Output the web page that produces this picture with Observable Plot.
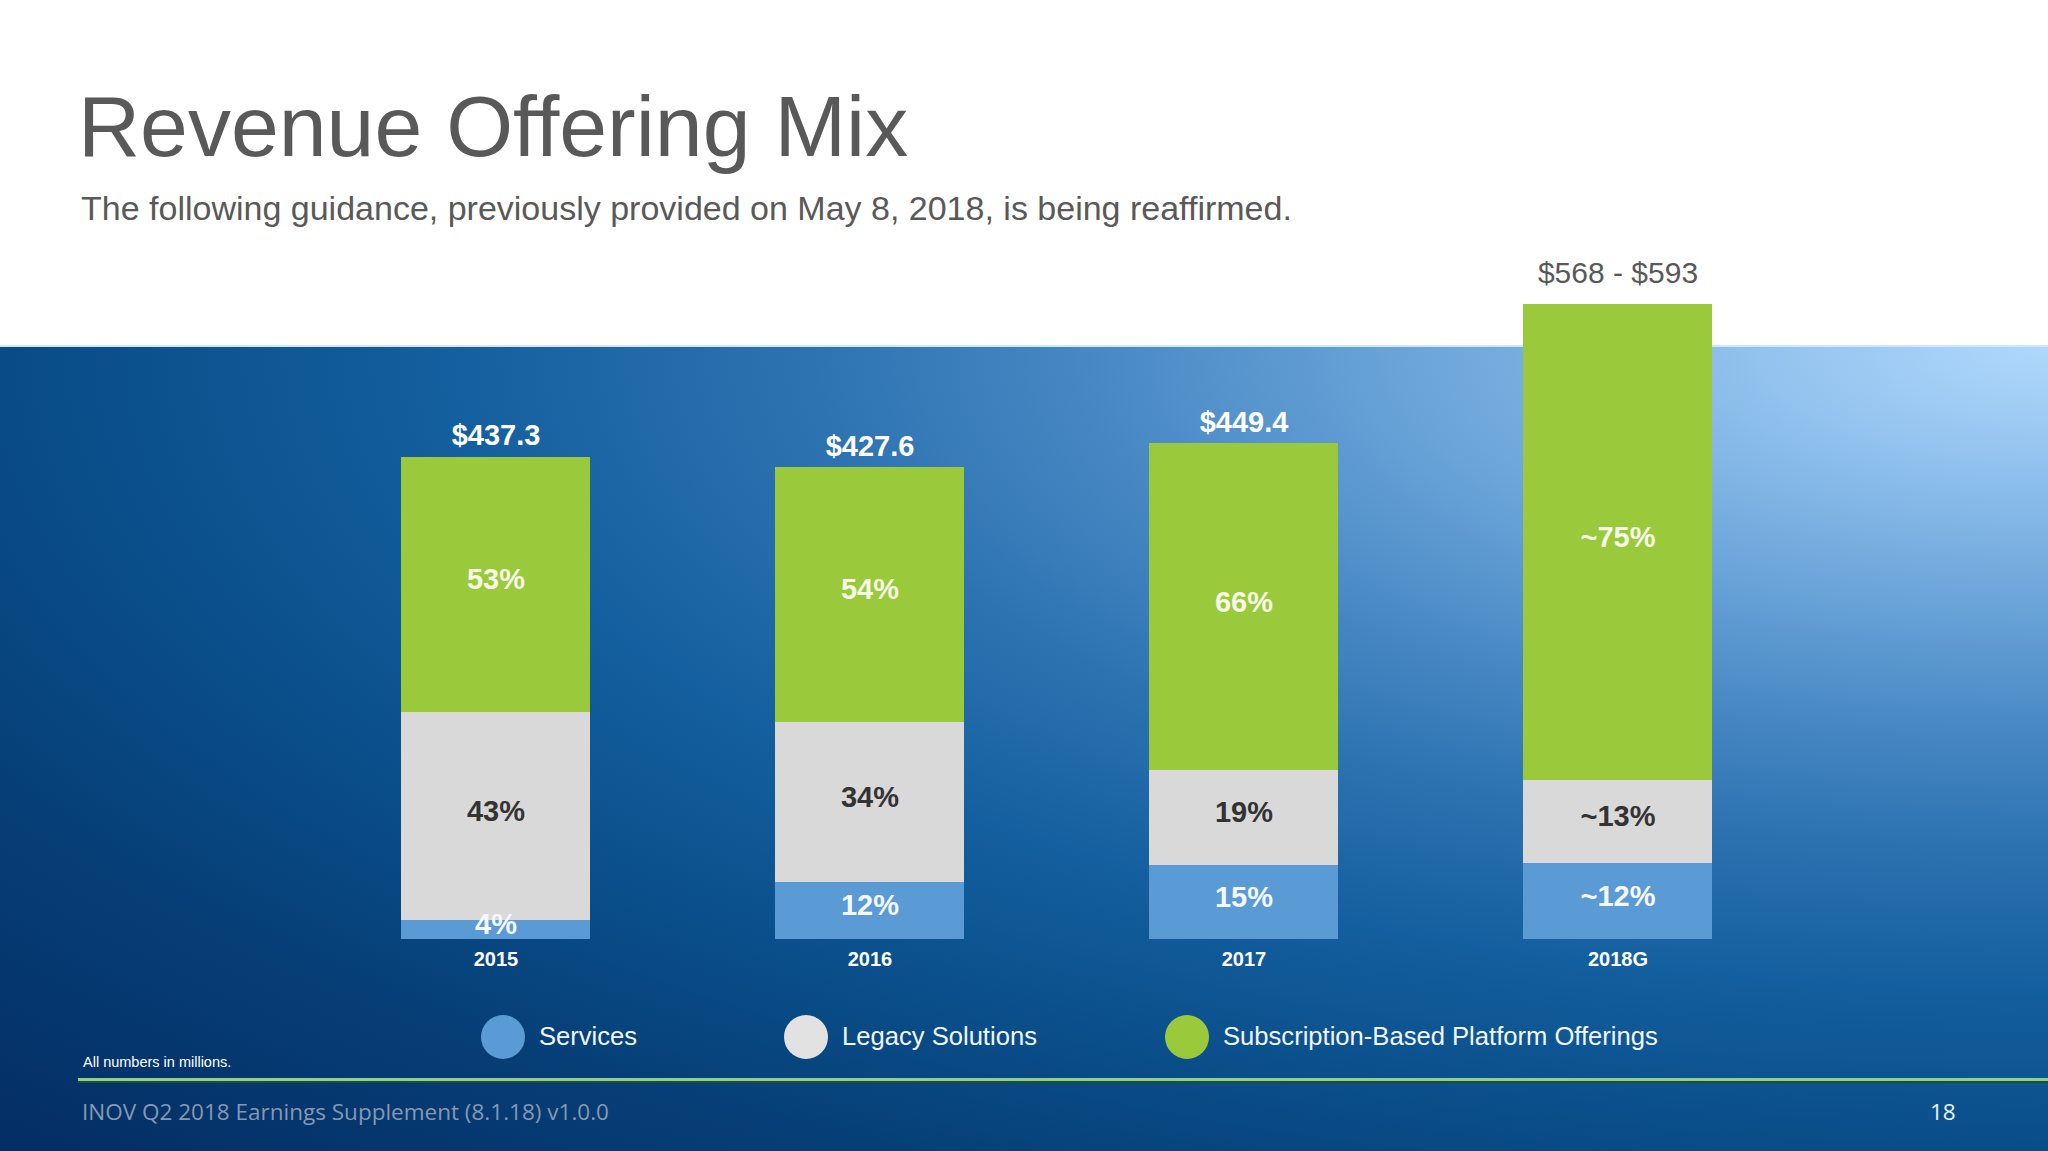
<!DOCTYPE html>
<html>
<head>
<meta charset="utf-8">
<script src="https://cdn.jsdelivr.net/npm/d3@7"></script>
<script src="https://cdn.jsdelivr.net/npm/@observablehq/plot@0.6"></script>
<style>
  html, body { margin: 0; padding: 0; background: #fff; }
  #page { position: relative; width: 2048px; height: 1151px; overflow: hidden; background: #fff;
          font-family: "Liberation Sans", Arial, sans-serif; }
  #panel { position: absolute; left: 0; top: 345px; width: 2048px; height: 806px;
           border-top: 2px solid #cfe7fa;
           background: radial-gradient(ellipse 2250px 900px at 100% 0%,
             #b0d8fc 0%, #92c2ee 13%, #6ea7db 27%, #4b8bc6 41%, #2d73b2 55%,
             #145f9f 71%, #0a4f8b 87%, #063e76 104%, #042f66 125%); }
  #title { position: absolute; left: 78px; top: 83px; font-size: 86px; line-height: 1; color: #595959; white-space: nowrap; }
  #subtitle { position: absolute; left: 81px; top: 191px; font-size: 34px; line-height: 1; color: #595959; white-space: nowrap; }
  #chart { position: absolute; left: 0; top: 0; }
  #legend { position: absolute; top: 1015px; left: 0; height: 44px; }
  .item { position: absolute; top: 0; height: 44px; display: flex; align-items: center; white-space: nowrap;
          font-size: 25.6px; line-height: 1; color: #f2f6fb; }
  .sw { width: 44px; height: 44px; border-radius: 50%; margin-right: 14px; }
  #note { position: absolute; left: 83px; top: 1055px; font-size: 14.5px; line-height: 1; color: #ffffff; white-space: nowrap; }
  #rule { position: absolute; left: 78px; top: 1078px; width: 1970px; height: 3px; background: #92cf8f; border-bottom: 2px solid #1c4f33; }
  #footer { position: absolute; left: 82px; top: 1097px; font-family: "Open Sans", sans-serif; font-size: 22.5px; line-height: 1.3; color: #8598b2; white-space: nowrap; }
  #pageno { position: absolute; left: 1930px; top: 1097px; font-family: "Open Sans", sans-serif; font-size: 22.5px; line-height: 1.3; color: #eef3f9; }
</style>
</head>
<body>
<div id="page">
  <div id="panel"></div>
  <div id="title">Revenue Offering Mix</div>
  <div id="subtitle">The following guidance, previously provided on May 8, 2018, is being reaffirmed.</div>
  <div id="chart"></div>
  <div id="legend"></div>
  <div id="note">All numbers in millions.</div>
  <div id="rule"></div>
  <div id="footer">INOV Q2 2018 Earnings Supplement (8.1.18) v1.0.0</div>
  <div id="pageno">18</div>
</div>
<script>
// ---- data ----
const years = ["2015", "2016", "2017", "2018G"];
const totals = [437.3, 427.6, 449.4, 576];          // 2018G bar height
const totalLabels = ["$437.3", "$427.6", "$449.4", "$568 - $593"];
const servicesPct = [4, 12, 15, 12];
const legacyPct = [43, 34, 19, 13];
const subscriptionPct = [53, 54, 66, 75];
const approx = [false, false, false, true];
const seriesNames = ["Services", "Legacy Solutions", "Subscription-Based Platform Offerings"];
const seriesColors = ["#5b9bd5", "#d9d9d9", "#9aca3c"];
const legendColors = ["#5b9bd5", "#e2e2e2", "#9aca3c"];
const labelColors = ["#f4f8ff", "#333333", "#f5f9e6"];

// ---- build tables ----
const seriesPct = [servicesPct, legacyPct, subscriptionPct];
const rows = [];
years.forEach((yr, i) => {
  let base = 0;
  seriesPct.forEach((arr, s) => {
    const v = totals[i] * arr[i] / 100;
    rows.push({year: yr, series: seriesNames[s], s, y1: base, y2: base + v, mid: base + v / 2,
               label: (approx[i] ? "~" : "") + arr[i] + "%"});
    base += v;
  });
});
const tops = years.map((yr, i) => ({year: yr, total: totals[i], label: totalLabels[i], approx: approx[i]}));
const yearRows = years.map(yr => ({year: yr, y: 0}));

const k = 1.103, base0 = 939, ymax = 700;
const chart = Plot.plot({
  width: 2048,
  height: 1151,
  marginLeft: 400.6,
  marginRight: 2048 - 1711.7,
  marginBottom: 1151 - base0,
  marginTop: base0 - k * ymax,
  style: {background: "transparent", overflow: "visible", fontFamily: "'Liberation Sans', Arial, sans-serif"},
  x: {domain: years, paddingInner: 0.495, paddingOuter: 0, align: 0.5, axis: null},
  y: {domain: [0, ymax], axis: null},
  color: {domain: seriesNames, range: seriesColors},
  marks: [
    Plot.barY(rows, {x: "year", y1: "y1", y2: "y2", fill: "series", shapeRendering: "crispEdges"}),
    ...[0, 1, 2].map(s => Plot.text(rows.filter(d => d.s === s), {
      x: "year", y: "mid", text: "label", fill: labelColors[s], fontSize: 29, fontWeight: "bold",
      lineAnchor: "middle", dy: -5
    })),
    Plot.text(tops.filter(d => !d.approx), {
      x: "year", y: "total", text: "label", fill: "#ffffff", fontSize: 29, fontWeight: "bold",
      lineAnchor: "middle", dy: -21
    }),
    Plot.text(tops.filter(d => d.approx), {
      x: "year", y: "total", text: "label", fill: "#595959", fontSize: 30,
      lineAnchor: "middle", dy: -31
    }),
    Plot.text(yearRows, {
      x: "year", y: "y", text: "year", fill: "#ffffff", fontSize: 20, fontWeight: "bold",
      lineAnchor: "middle", dy: 20
    })
  ]
});
document.getElementById("chart").appendChild(chart);

// ---- legend ----
const legendLeft = [481, 784, 1165];
const legend = document.getElementById("legend");
seriesNames.forEach((name, i) => {
  const it = document.createElement("div");
  it.className = "item";
  it.style.left = legendLeft[i] + "px";
  const sw = document.createElement("div");
  sw.className = "sw";
  sw.style.background = legendColors[i];
  const tx = document.createElement("span");
  tx.textContent = name;
  it.appendChild(sw);
  it.appendChild(tx);
  legend.appendChild(it);
});
</script>
</body>
</html>
